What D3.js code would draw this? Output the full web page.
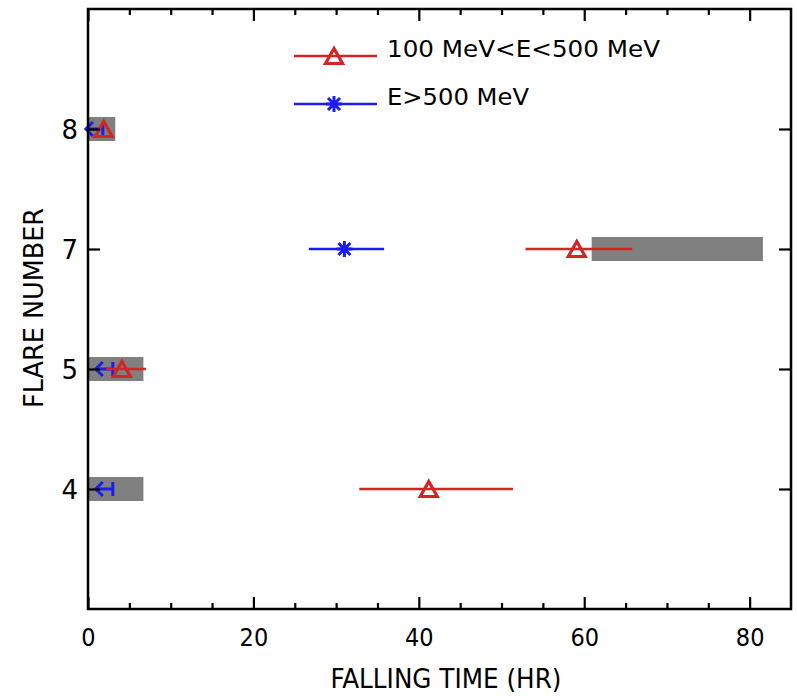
<!DOCTYPE html>
<html>
<head>
<meta charset="utf-8">
<script src="https://cdn.jsdelivr.net/npm/d3@7"></script>
<style>
  html, body { margin: 0; padding: 0; background: #fff; }
  svg { display: block; }
  .cond { font-family: "DejaVu Sans Condensed", "DejaVu Sans", sans-serif; font-stretch: condensed; }
  .norm { font-family: "DejaVu Sans", sans-serif; }
</style>
</head>
<body>
<svg id="chart" width="797" height="696"></svg>
<script>
// ---- data ----
const flares = [4, 5, 7, 8];
// 100 MeV < E < 500 MeV (red triangles)
const redValue = [41.2, 4.1, 59.1, 1.9];
const redLow   = [32.8, 2.2, 52.9, null];
const redHigh  = [51.4, 7.0, 65.8, null];
// E > 500 MeV (blue asterisks / upper limits)
const blueValue = [3.0, 3.0, 31.0, 1.8];
const blueLow   = [null, null, 26.7, null];
const blueHigh  = [null, null, 35.8, null];
const blueUpperLimit = [true, true, false, true];
// grey shaded ranges
const boxStart = [0, 0, 60.9, 0];
const boxEnd   = [6.7, 6.7, 81.6, 3.3];
// axes
const xMajorTicks = [0, 20, 40, 60, 80];
const xMinorTicks = [5, 10, 15, 25, 30, 35, 45, 50, 55, 65, 70, 75];
const legendLabels = ["100 MeV<E<500 MeV", "E>500 MeV"];

const RED = "#d42424";
const BLUE = "#1c1cf0";
const GREY = "#808080";

const L = 88, R = 791, T = 9, B = 609;
const svg = d3.select("#chart");

const x = d3.scaleLinear().domain([0, 85]).range([L, R]);
const y = d3.scalePoint().domain(flares).range([B, T]).padding(1);

const plot = svg.append("g");

// grey boxes
plot.selectAll("rect.box").data(flares).join("rect")
  .attr("class", "box")
  .attr("x", (d, i) => x(boxStart[i]))
  .attr("width", (d, i) => x(boxEnd[i]) - x(boxStart[i]))
  .attr("y", d => y(d) - 12)
  .attr("height", 24)
  .attr("fill", GREY);

function triPath(cx, cy) {
  const w = 8.5, h = 7.5;
  return `M${cx - w},${cy + h}L${cx},${cy - h}L${cx + w},${cy + h}Z`;
}
function starPath(cx, cy) {
  const r = 8, d = 6;
  return `M${cx},${cy - r}L${cx},${cy + r}M${cx - r},${cy}L${cx + r},${cy}` +
         `M${cx - d},${cy - d}L${cx + d},${cy + d}M${cx - d},${cy + d}L${cx + d},${cy - d}`;
}
function arrowPath(cx, cy) {
  const len = 17, hb = 7, ha = 7;
  const tip = cx - len;
  return `M${cx},${cy - 7}L${cx},${cy + 7}M${cx},${cy}L${tip},${cy}` +
         `M${tip + ha},${cy - hb}L${tip},${cy}L${tip + ha},${cy + hb}`;
}

// blue series
flares.forEach((f, i) => {
  const cy = y(f), cx = x(blueValue[i]);
  if (blueLow[i] !== null) {
    plot.append("line").attr("x1", x(blueLow[i])).attr("x2", x(blueHigh[i]))
      .attr("y1", cy).attr("y2", cy).attr("stroke", BLUE).attr("stroke-width", 2.6);
  }
  plot.append("path")
    .attr("d", blueUpperLimit[i] ? arrowPath(cx, cy) : starPath(cx, cy))
    .attr("fill", "none").attr("stroke", BLUE).attr("stroke-width", 3);
});

// red series
flares.forEach((f, i) => {
  const cy = y(f), cx = x(redValue[i]);
  if (redLow[i] !== null) {
    plot.append("line").attr("x1", x(redLow[i])).attr("x2", x(redHigh[i]))
      .attr("y1", cy).attr("y2", cy).attr("stroke", RED).attr("stroke-width", 2.6);
  }
  plot.append("path").attr("d", triPath(cx, cy)).attr("fill", "none")
    .attr("stroke", RED).attr("stroke-width", 3.2).attr("stroke-linejoin", "miter");
});

// axes
function styleAxis(g) {
  g.select(".domain").remove();
  g.selectAll(".tick line").attr("stroke", "#000").attr("stroke-width", 2.2);
}
svg.append("g").attr("transform", `translate(0,${B})`)
  .call(d3.axisBottom(x).tickValues(xMinorTicks).tickSize(-6).tickFormat(""))
  .call(styleAxis);
svg.append("g").attr("transform", `translate(0,${T})`)
  .call(d3.axisTop(x).tickValues(xMinorTicks).tickSize(-6).tickFormat(""))
  .call(styleAxis);
svg.append("g").attr("transform", `translate(0,${T})`)
  .call(d3.axisTop(x).tickValues(xMajorTicks).tickSize(-12).tickFormat(""))
  .call(styleAxis);
const xb = svg.append("g").attr("transform", `translate(0,${B})`)
  .call(d3.axisBottom(x).tickValues(xMajorTicks).tickSize(-12).tickPadding(0).tickFormat(d3.format("d")))
  .call(styleAxis);
xb.selectAll(".tick text")
  .attr("class", "cond").attr("font-size", 25).attr("fill", "#000")
  .attr("y", 0).attr("dy", 0)
  .attr("transform", "translate(0,37)");

const yl = svg.append("g").attr("transform", `translate(${L},0)`)
  .call(d3.axisLeft(y).tickSize(-12).tickPadding(0).tickFormat(d3.format("d")))
  .call(styleAxis);
yl.selectAll(".tick text")
  .attr("class", "norm").attr("font-size", 26).attr("fill", "#000")
  .attr("x", -10).attr("dy", "0.36em");
svg.append("g").attr("transform", `translate(${R},0)`)
  .call(d3.axisRight(y).tickSize(-12).tickFormat(""))
  .call(styleAxis);

// frame
svg.append("rect").attr("x", L).attr("y", T).attr("width", R - L).attr("height", B - T)
  .attr("fill", "none").attr("stroke", "#000").attr("stroke-width", 2.5);

// axis titles
svg.append("text").attr("class", "cond")
  .attr("x", 446).attr("y", 688).attr("text-anchor", "middle")
  .attr("font-size", 26).attr("textLength", 231).attr("lengthAdjust", "spacingAndGlyphs")
  .text("FALLING TIME (HR)");
svg.append("text").attr("class", "cond")
  .attr("transform", "translate(43,308) rotate(-90)").attr("text-anchor", "middle")
  .attr("font-size", 27).attr("textLength", 200).attr("lengthAdjust", "spacingAndGlyphs")
  .text("FLARE NUMBER");

// legend
const legY = [56, 104];
const legW = [273, 142];
legendLabels.forEach((lab, i) => {
  const col = i === 0 ? RED : BLUE;
  svg.append("line").attr("x1", 294).attr("x2", 377).attr("y1", legY[i]).attr("y2", legY[i])
    .attr("stroke", col).attr("stroke-width", 2.6);
  svg.append("path").attr("d", i === 0 ? triPath(334, legY[i]) : starPath(334, legY[i]))
    .attr("fill", "none").attr("stroke", col).attr("stroke-width", i === 0 ? 3.2 : 3);
  svg.append("text").attr("class", "norm")
    .attr("x", 387).attr("y", legY[i] + 1)
    .attr("font-size", 23.5).attr("textLength", legW[i]).attr("lengthAdjust", "spacingAndGlyphs")
    .text(lab);
});
</script>
</body>
</html>
